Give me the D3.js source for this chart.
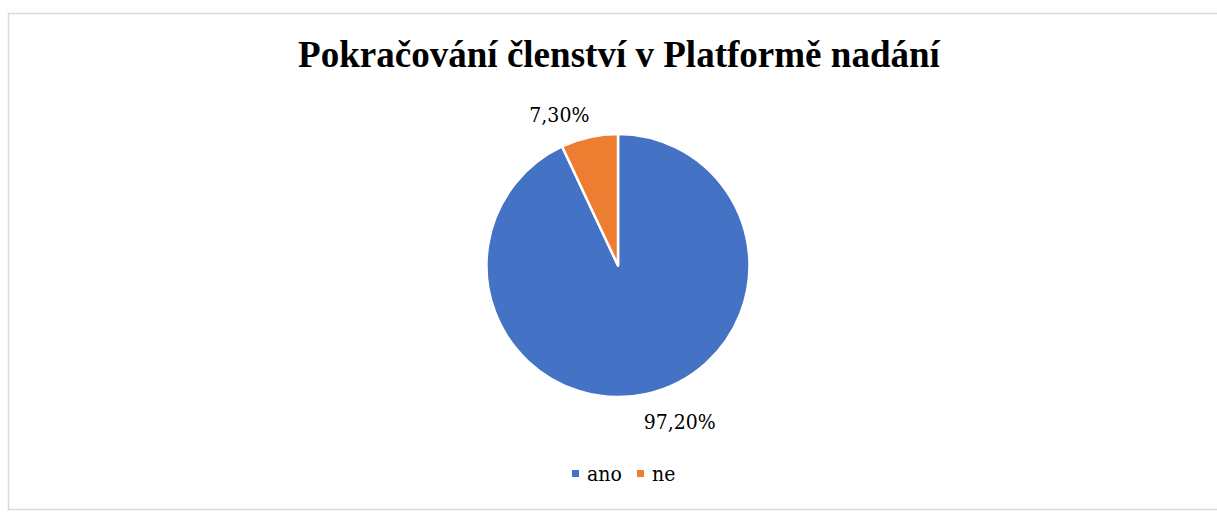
<!DOCTYPE html>
<html>
<head>
<meta charset="utf-8">
<script src="https://cdn.jsdelivr.net/npm/d3@7"></script>
<style>
  body { margin: 0; background: #fff; }
</style>
</head>
<body>
<div id="chart"></div>
<script>
// data
const categories = ['ano', 'ne'];
const values = [97.2, 7.3];
const labels = ['97,20%', '7,30%'];
const colors = ['#4472C4', '#ED7D31'];
const title = 'Pokračování členství v Platformě nadání';

const width = 1217;
const height = 514;
const serif = '"DejaVu Serif Condensed", "DejaVu Serif", serif';

const svg = d3.select('#chart')
  .append('svg')
  .attr('width', width)
  .attr('height', height)
  .attr('font-family', '"Liberation Serif", serif');

// chart area border
svg.append('rect')
  .attr('x', 8.5)
  .attr('y', 13.5)
  .attr('width', 1220)
  .attr('height', 496)
  .attr('fill', '#fff')
  .attr('stroke', '#D9D9D9')
  .attr('stroke-width', 1.5);

// title, scaled to the width seen in the reference
const t = svg.append('text')
  .attr('x', 619)
  .attr('y', 67)
  .attr('text-anchor', 'middle')
  .attr('font-weight', 'bold')
  .attr('font-size', 36)
  .text(title);
const tw = t.node().getComputedTextLength();
t.attr('font-size', (36 * 642 / tw).toFixed(2));

const cx = 618, cy = 265.5, r = 131.5;

const pie = d3.pie().sort(null).value((d) => d);
const arcs = pie(values);
const arc = d3.arc().innerRadius(0).outerRadius(r);

const g = svg.append('g').attr('transform', `translate(${cx}, ${cy})`);

g.selectAll('path')
  .data(arcs)
  .enter()
  .append('path')
  .attr('d', arc)
  .attr('fill', (d, i) => colors[i])
  .attr('stroke', '#fff')
  .attr('stroke-width', 2.5)
  .attr('stroke-linejoin', 'round');

// labels outside the slices, corner placed on the mid angle
const labelR = 150;
g.selectAll('.lbl')
  .data(arcs)
  .enter()
  .append('text')
  .attr('class', 'lbl')
  .each(function (d, i) {
    const a = (d.startAngle + d.endAngle) / 2;
    const x = labelR * Math.sin(a);
    const y = -labelR * Math.cos(a);
    d3.select(this)
      .attr('x', x >= 0 ? x - 7 : x + 4)
      .attr('y', y)
      .attr('text-anchor', x >= 0 ? 'start' : 'end')
      .attr('dy', y >= 0 ? '0.8em' : '0.15em')
      .attr('font-family', serif)
      .attr('font-size', 21)
      .attr('fill', '#000')
      .text(labels[i]);
  });

// legend
const legend = svg.append('g').attr('transform', 'translate(572, 481)');
const offsets = [0, 65];
categories.forEach((c, i) => {
  const item = legend.append('g').attr('transform', `translate(${offsets[i]}, 0)`);
  item.append('rect')
    .attr('x', 0)
    .attr('y', -11)
    .attr('width', 7)
    .attr('height', 7)
    .attr('fill', colors[i]);
  item.append('text')
    .attr('x', 15)
    .attr('y', 0)
    .attr('font-family', serif)
    .attr('font-size', 21)
    .text(c);
});
</script>
</body>
</html>
